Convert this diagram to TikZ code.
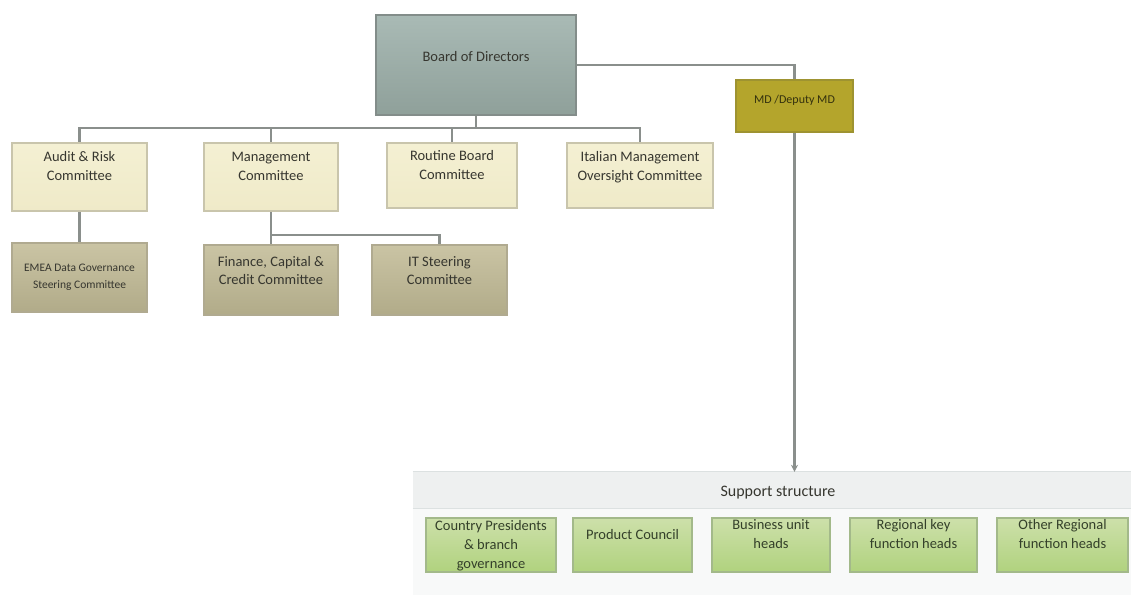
\documentclass[tikz,border=0pt]{standalone}
\usepackage{fontspec}
\setmainfont{Carlito}
\usetikzlibrary{arrows.meta}
\definecolor{conn}{HTML}{8A8F8C}
\definecolor{bdTop}{HTML}{A9BAB5}
\definecolor{bdBot}{HTML}{8FA09A}
\definecolor{bdDraw}{HTML}{838D8A}
\definecolor{cmFill}{HTML}{F4F0D3}
\definecolor{cmFill2}{HTML}{EFEAC8}
\definecolor{cmDraw}{HTML}{C9C5AC}
\definecolor{lwTop}{HTML}{CAC4A4}
\definecolor{lwBot}{HTML}{B1AB89}
\definecolor{lwDraw}{HTML}{B0AA90}
\definecolor{mdFill}{HTML}{B4A52C}
\definecolor{mdDraw}{HTML}{9E9331}
\definecolor{grTop}{HTML}{CDE0AA}
\definecolor{grBot}{HTML}{B0D27E}
\definecolor{grDraw}{HTML}{A3B98A}
\definecolor{pnFill}{HTML}{F8F9F9}
\definecolor{pnBand}{HTML}{EEF0F0}
\definecolor{pnLine}{HTML}{DCE1E1}
\definecolor{txtDark}{HTML}{36362F}
\definecolor{txtGreen}{HTML}{34402A}
\definecolor{txtMD}{HTML}{34310E}
\begin{document}
\begin{tikzpicture}[x=1pt,y=-1pt,
  boxbase/.style={rectangle, inner sep=0pt, line width=2.2pt},
  boardbox/.style={boxbase, draw=bdDraw, top color=bdTop, bottom color=bdBot},
  combox/.style={boxbase, draw=cmDraw, top color=cmFill, bottom color=cmFill2},
  lowbox/.style={boxbase, draw=lwDraw, top color=lwTop, bottom color=lwBot},
  mdbox/.style={boxbase, draw=mdDraw, fill=mdFill},
  grbox/.style={boxbase, draw=grDraw, top color=grTop, bottom color=grBot},
  txt/.style={inner sep=0pt, align=center, text=txtDark, font=\fontsize{14.5}{19}\selectfont},
  smalltxt/.style={txt, font=\fontsize{11.5}{17}\selectfont},
  grtxt/.style={txt, text=txtGreen},
  link/.style={draw=conn, line width=2.2pt},
  arrowlink/.style={link, -{Stealth[length=7pt,width=7pt]}}
]
\useasboundingbox (0,0) rectangle (1131,595);
\fill[white] (0,0) rectangle (1131,595);

% support panel
\node[rectangle, inner sep=0pt, fill=pnFill, minimum width=718pt, minimum height=123pt] (support) at (772,533.5) {};
\node[rectangle, inner sep=0pt, fill=pnBand, minimum width=718pt, minimum height=36pt] (band) at (772,490) {};
\draw[pnLine, line width=1pt] (band.south west) -- (band.south east);
\draw[pnLine, line width=1pt] (band.north west) -- (band.north east);

% boxes
\node[boardbox, minimum width=200pt, minimum height=100pt] (board) at (476,65) {};
\node[mdbox, minimum width=117pt, minimum height=52pt] (md) at (794.5,106) {};
\node[combox, minimum width=135pt, minimum height=68pt] (aud) at (79.5,177) {};
\node[combox, minimum width=134pt, minimum height=68pt] (mgmt) at (271,177) {};
\node[combox, minimum width=130pt, minimum height=65pt] (rout) at (452,175.5) {};
\node[combox, minimum width=146pt, minimum height=65pt] (ital) at (640,175.5) {};
\node[lowbox, minimum width=135pt, minimum height=69pt] (emea) at (79.5,277.5) {};
\node[lowbox, minimum width=134pt, minimum height=70pt] (fin) at (271,280) {};
\node[lowbox, minimum width=135pt, minimum height=70pt] (its) at (439.5,280) {};
\node[grbox, minimum width=130pt, minimum height=54pt] (g1) at (491,545) {};
\node[grbox, minimum width=119pt, minimum height=54pt] (g2) at (632.5,545) {};
\node[grbox, minimum width=118pt, minimum height=54pt] (g3) at (771,545) {};
\node[grbox, minimum width=127pt, minimum height=54pt] (g4) at (913.5,545) {};
\node[grbox, minimum width=131pt, minimum height=54pt] (g5) at (1062.5,545) {};

% texts
\node[txt] (boardT) at (476,57) {Board of Directors};
\node[txt, text=txtMD, font=\fontsize{12}{14}\selectfont] (mdT) at (794.5,100) {MD /Deputy MD};
\node[txt] (audT) at (79.5,166) {Audit \& Risk\\Committee};
\node[txt] (mgmtT) at (271,166) {Management\\Committee};
\node[txt] (routT) at (452,165) {Routine Board\\Committee};
\node[txt] (italT) at (640,166.8) {Italian Management\\Oversight Committee};
\node[smalltxt] (emeaT) at (79.5,277) {EMEA Data Governance\\Steering Committee};
\node[txt, font=\fontsize{14.5}{18}\selectfont] (finT) at (271,270.5) {Finance, Capital \&\\Credit Committee};
\node[txt, font=\fontsize{14.5}{18}\selectfont] (itsT) at (439.5,270.5) {IT Steering\\Committee};
\node[txt, font=\fontsize{16}{19}\selectfont] (supT) at (778,492.5) {Support structure};
\node[grtxt] (g1T) at (491,545.3) {Country Presidents\\\& branch\\governance};
\node[grtxt] (g2T) at (632.5,534.5) {Product Council};
\node[grtxt] (g3T) at (771,534) {Business unit\\heads};
\node[grtxt] (g4T) at (913.5,534) {Regional key\\function heads};
\node[grtxt] (g5T) at (1062.5,534) {Other Regional\\function heads};

% connectors
\coordinate (bus) at (476,128);
\coordinate (mbus) at (271,235);
\draw[link] (board.south) -- (bus);
\draw[link] (aud.north) |- (bus) -| (ital.north);
\draw[link] (mgmt.north) -- (mgmt.north |- bus);
\draw[link] (rout.north) -- (rout.north |- bus);
\draw[link] (board.east) -| (md.north);
\draw[link] (aud.south) -- (emea.north);
\draw[link] (mgmt.south) -- (fin.north);
\draw[link] (mbus) -| (its.north);
\draw[arrowlink] (md.south) -- (md.south |- support.north);
\end{tikzpicture}
\end{document}
